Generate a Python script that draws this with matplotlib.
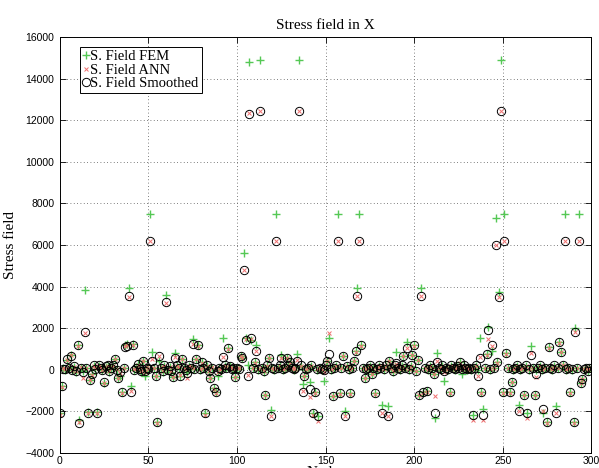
import numpy as np
import matplotlib
matplotlib.use("Agg")
from matplotlib import pyplot as plt

nodes = np.arange(300)

fem = [
    -2100, -800, 100, 0, 480, 100, 720, 0, 150, -100,
    1190, -2400, 100, -50, 3850, 100, -2050, -480, -200, 200,
    50, -2050, 200, 100, 0, -620, 150, 200, -100, 100,
    200, 520, 0, -380, -290, -1050, 100, 1200, 1250, 3950,
    -760, 1250, 0, 100, 300, 0, -100, 430, -280, 100,
    0, 7500, 860, 100, -290, -2520, 400, 100, -100, 200,
    3600, 0, 150, -100, -330, 810, 200, 100, -290, 520,
    100, 0, -100, 200, 100, 1480, 50, 520, 1190, 0,
    380, 100, -2100, 200, -100, -380, 100, -860, -1050, -290,
    100, 0, 1520, 200, 100, 1050, 190, 0, 100, -330,
    100, 50, 670, 570, 5600, 1520, 240, 14800, 1450, 100,
    380, 1190, 0, 14900, 100, -100, -1190, 200, 570, -1950,
    100, 0, 7500, 100, 200, 720, 0, 100, 570, 200,
    380, 100, 0, 100, 760, 14900, 200, -670, -290, 0,
    100, -570, 200, -2100, -1050, 0, -2200, 100, 0, -520,
    200, 430, 1520, 0, -1240, 100, 200, 7500, -1100, 100,
    670, -2000, 190, 0, -1100, 100, 430, 900, 3950, 7500,
    1190, 100, -380, 0, 100, 200, -190, 100, -1100, 0,
    200, 100, -1710, 0, 200, -1760, 430, 100, -100, 200,
    860, 100, 0, 200, 670, 100, 1330, 0, 200, 720,
    1190, -50, 480, -1190, 3950, -1050, 100, -1000, 0, 200,
    100, -190, -2330, 810, 100, 0, 200, -520, 100, 0,
    -1050, 200, 100, 0, 150, 100, 380, -190, 200, 100,
    0, 100, 0, -2150, 100, 200, 0, 1520, -1050, -1900,
    100, 760, 2050, 0, 900, 100, 7300, 380, 3750, 14900,
    -1050, 7500, 810, 100, -1050, -570, 0, 100, 200, -1670,
    0, 100, -1190, 200, -2100, 0, 1140, 100, -1190, 0,
    100, 200, 0, -2100, 100, -2520, 1100, 100, 0, 200,
    -1760, 100, 1330, 860, 240, 7500, 0, 100, -1050, 0,
    -2520, 2000, 100, 7500, -620, -430, 0, 100, -50, 100,
]

ann = [
    -2150, -850, 80, 20, 450, 120, 700, -20, 130, -80,
    1150, -2500, 120, -400, 1750, 80, -2100, -500, -250, 180,
    70, -2100, 180, 120, -30, -650, 130, 180, -80, 120,
    180, 500, 30, -400, -150, -1100, 80, 1150, 1200, 3500,
    -1000, 1200, 30, 80, 250, 20, -80, 400, -100, 120,
    20, 6200, 500, 80, -300, -2550, 650, 120, -80, 180,
    3200, 30, 130, -80, -350, 600, 180, 120, -250, 500,
    80, 30, -400, 180, 120, 1250, 70, 500, 1150, 20,
    350, 80, -2150, 180, -80, -400, 120, -900, -1100, -100,
    80, 20, 600, 180, 120, 1000, 170, 20, 80, -350,
    80, 70, 650, 550, 4800, 1500, -250, 12350, 1500, 80,
    350, 900, 20, 12450, 80, -80, -1200, 180, 550, -2200,
    80, 20, 6200, 80, 180, 570, 20, 80, 550, 180,
    350, 80, 20, 80, 450, 12450, 180, -1000, -300, 20,
    80, -1330, 180, -2150, -1100, 20, -2450, 80, 20, -100,
    180, 400, 1760, 20, -1250, 80, 180, 6200, -1150, 80,
    650, -2200, 170, 20, -1150, 80, 400, 850, 3550, 6200,
    1150, 80, -400, 20, 80, 180, -200, 80, -1150, 20,
    180, 80, -2100, 20, 180, -2240, 400, 80, -80, 180,
    300, 80, 20, 180, 650, 80, 1050, 20, 180, 700,
    1150, -80, 450, -1200, 3550, -1100, 80, -1050, 20, 180,
    80, -200, -1240, 400, 80, 20, 180, -100, 80, 20,
    -1100, 180, 80, 20, 130, 80, 350, 0, 180, 80,
    20, 80, 20, -2400, 80, 180, -290, 600, -1100, -2400,
    80, 700, 1500, 20, 1150, 80, 6000, 350, 3500, 12450,
    -1100, 6200, 780, 80, -1100, -600, 20, 80, 180, -2000,
    20, 80, -1200, 180, -2300, 20, 800, 80, -1200, -330,
    80, 180, 20, -2000, 80, -2550, 1050, 80, 20, 180,
    -2100, 80, 1300, 850, 220, 6200, 20, 80, -1100, 20,
    -2550, 1800, 80, 6200, -650, -450, 20, 80, -30, 80,
]

smoothed = [
    -2100, -800, 60, 40, 500, 90, 650, 10, 160, -60,
    1200, -2550, 90, -100, 1800, 110, -2100, -480, -200, 210,
    40, -2100, 220, 90, 10, -600, 160, 220, -60, 90,
    220, 520, 10, -380, -100, -1050, 110, 1100, 1150, 3550,
    -1050, 1200, 10, 110, 300, 40, -60, 430, -50, 90,
    40, 6200, 430, 110, -290, -2500, 670, 90, -60, 220,
    3250, 10, 160, -60, -330, 570, 220, 90, -300, 520,
    110, 10, -150, 220, 90, 1240, 40, 520, 1190, 40,
    380, 110, -2100, 220, -60, -380, 90, -860, -1050, -50,
    110, 40, 620, 220, 90, 1050, 190, 40, 110, -330,
    110, 40, 670, 570, 4800, 1450, -290, 12300, 1520, 110,
    380, 900, 40, 12450, 110, -60, -1190, 220, 570, -2200,
    110, 40, 6200, 110, 220, 570, 40, 110, 570, 220,
    380, 110, 40, 110, 430, 12450, 220, -1050, -290, 40,
    110, -900, 220, -2100, -1050, 40, -2200, 110, 40, 0,
    220, 430, 760, 40, -1240, 110, 220, 6200, -1100, 110,
    670, -2200, 190, 40, -1100, 110, 430, 900, 3570, 6200,
    1190, 110, -380, 40, 110, 220, -190, 110, -1100, 40,
    220, 110, -2100, 40, 220, -2240, 430, 110, -60, 220,
    350, 110, 40, 220, 670, 110, 1050, 40, 220, 720,
    1190, -50, 480, -1190, 3550, -1050, 110, -1000, 40, 220,
    110, -190, -2100, 380, 110, 40, 220, -50, 110, 40,
    -1050, 220, 110, 40, 160, 110, 380, 50, 220, 110,
    40, 110, 40, -2150, 110, 220, -290, 570, -1050, -2150,
    110, 760, 1900, 40, 1190, 110, 6000, 380, 3500, 12450,
    -1050, 6200, 810, 110, -1050, -570, 40, 110, 220, -2000,
    40, 110, -1190, 220, -2100, 40, 720, 110, -1190, -200,
    110, 220, 40, -1900, 110, -2520, 1100, 110, 40, 220,
    -2100, 110, 1330, 860, 240, 6200, 40, 110, -1050, 40,
    -2520, 1810, 110, 6200, -620, -430, 40, 110, -50, 110,
]

serif = "Liberation Serif"
sans = "Liberation Sans"

def main():
    fig = plt.figure(figsize=(5.99, 4.68), dpi=100)
    ax = fig.add_axes([0.100, 0.032, 0.887, 0.889])

    ax.plot(nodes, fem, linestyle="none", marker="+", markersize=5.5,
            markeredgewidth=1.0, color="#55c855", label="S. Field FEM")
    ax.plot(nodes, ann, linestyle="none", marker="x", markersize=3.2,
            markeredgewidth=0.7, color="#f07070", label="S. Field ANN")
    ax.plot(nodes, smoothed, linestyle="none", marker="o", markersize=6,
            markerfacecolor="none", markeredgewidth=0.7, color="black",
            label="S. Field Smoothed")

    ax.set_xlim(0, 300)
    ax.set_ylim(-4000, 16000)
    ax.set_xticks(np.arange(0, 301, 50))
    ax.set_yticks(np.arange(-4000, 16001, 2000))
    ax.grid(True, linestyle=(0, (1, 3)), color="#555555", linewidth=0.6)
    ax.tick_params(direction="in", top=True, right=True, length=4,
                   width=0.6, labelsize=7.5)
    ax.tick_params(axis="x", pad=2)
    ax.tick_params(axis="y", pad=4)
    for lab in ax.get_xticklabels() + ax.get_yticklabels():
        lab.set_family(sans)
    for sp in ax.spines.values():
        sp.set_linewidth(0.7)

    ax.set_title("Stress field in X", family=serif, fontsize=11, pad=6)
    ax.set_ylabel("Stress field", family=serif, fontsize=11, labelpad=6)
    ax.set_xlabel("Nodes", family=serif, fontsize=11, labelpad=0)

    leg = ax.legend(loc="upper left", bbox_to_anchor=(0.037, 0.975),
                    prop={"family": serif, "size": 10.5}, fancybox=False,
                    edgecolor="black", framealpha=1, handlelength=0.5,
                    handletextpad=0.05, borderpad=0.2, labelspacing=0.0,
                    borderaxespad=0)
    leg.get_frame().set_linewidth(0.7)

    fig.savefig("out.png", dpi=100)

if __name__ == "__main__":
    main()
